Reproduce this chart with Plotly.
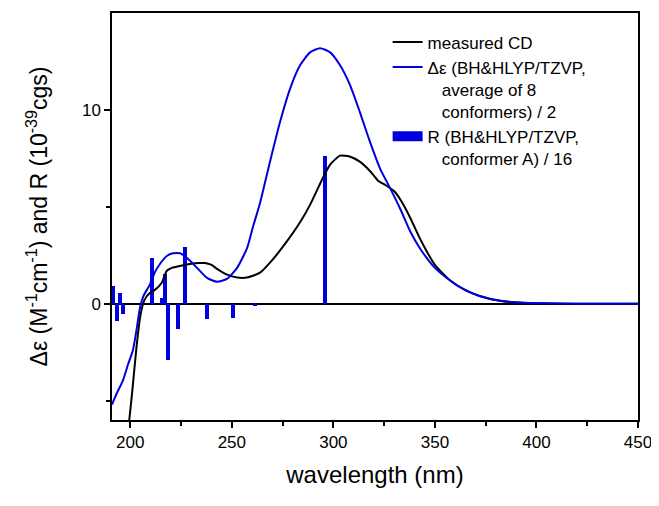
import plotly.graph_objects as go

# measured CD spectrum
cd_wl = [199, 201, 203, 205, 207, 209.7, 212, 215.5, 218, 220.5, 224.5, 229.4, 234, 236.8, 240,
         242.7, 247.6, 252.6, 257.5, 263.9, 270.3, 277, 283.6, 288.5, 294.4, 298.4, 303.3, 308,
         313, 318, 322, 326, 330, 334, 338, 342, 346, 350, 357.5, 365, 372, 382, 392, 405, 420, 450]
cd_val = [-6.5, -4.5, -2.3, -0.6, 0.2, 0.56, 0.7, 1.08, 1.7, 1.85, 1.95, 2.05, 2.1, 2.1, 2.0,
          1.8, 1.5, 1.35, 1.35, 1.6, 2.3, 3.2, 4.2, 5.1, 6.4, 7.18, 7.64, 7.6,
          7.33, 6.85, 6.35, 6.1, 5.8, 5.2, 4.4, 3.5, 2.7, 2.0, 1.2, 0.7, 0.4, 0.15, 0.05, 0.01, 0.0, 0.0]

# calculated spectrum (average of 8 conformers) / 2
calc_wl = [191, 193, 196.4, 199, 201.3, 203, 204.8, 206.5, 209.7, 212, 214.6, 218, 221, 224.5,
           228, 232.9, 237.8, 242.7, 247.6, 252.6, 257.5, 260.5, 263.9, 268.8, 273.8, 278.7,
           283.6, 288.5, 293.5, 298.4, 303.3, 308.2, 313, 318, 323, 328, 332.9, 338, 343, 350,
           357.5, 365, 372, 382, 392, 405, 420, 450]
calc_val = [-5.2, -4.7, -3.95, -3.1, -2.4, -1.4, -0.2, 0.4, 1.0, 1.6, 2.05, 2.46, 2.6, 2.6,
            2.36, 1.85, 1.33, 1.13, 1.28, 1.85, 2.87, 4.0, 5.2, 7.33, 9.4, 11.1,
            12.3, 12.97, 13.18, 12.97, 12.3, 11.28, 9.9, 8.36, 6.97, 5.95, 4.9, 3.7, 2.8, 1.85,
            1.2, 0.7, 0.4, 0.15, 0.06, 0.02, 0.0, 0.0]

# rotational strengths, conformer A / 16
r_wl = [191.5, 193.5, 195, 196.4, 210.7, 215.6, 217.1, 218.6, 223.5, 227, 237.8, 250.6, 261.4, 295.9]
r_val = [0.92, -0.87, 0.55, -0.53, 2.36, 0.3, 1.54, -2.92, -1.28, 2.92, -0.77, -0.72, -0.1, 7.6]

x_ticks = [200, 250, 300, 350, 400, 450]
y_ticks = [0, 10]

FONT = "Liberation Sans, Arial, sans-serif"
BLUE = "#0000DD"
NB = "\u00a0\u00a0\u00a0"

fig = go.Figure()
fig.add_trace(go.Bar(x=r_wl, y=r_val, width=2.2, marker=dict(color=BLUE, line=dict(width=0)),
                     showlegend=False))
fig.add_trace(go.Scatter(x=cd_wl, y=cd_val, mode="lines", name="measured CD",
                         line=dict(color="black", width=2, shape="spline", smoothing=0.5)))
fig.add_trace(go.Scatter(x=calc_wl, y=calc_val, mode="lines",
                         name="Δε (BH&HLYP/TZVP,<br>" + NB + "average of 8<br>" + NB + "conformers) / 2",
                         line=dict(color=BLUE, width=2, shape="spline", smoothing=0.6)))
fig.add_trace(go.Scatter(x=[None], y=[None], mode="lines",
                         name="R (BH&HLYP/TZVP,<br>" + NB + "conformer A) / 16",
                         line=dict(color=BLUE, width=12)))

fig.update_layout(
    width=651, height=498,
    margin=dict(l=104, r=21, t=3, b=86),
    paper_bgcolor="white", plot_bgcolor="white",
    font=dict(family=FONT, color="black"),
    bargap=0,
    legend=dict(x=0.524, y=0.972, xanchor="left", yanchor="top", bgcolor="rgba(0,0,0,0)",
                font=dict(size=17, family=FONT), valign="top", tracegroupgap=0),
    xaxis=dict(range=[191, 450], tickvals=x_ticks, ticks="outside", ticklen=6, tickwidth=1.5,
               tickcolor="black", showline=True, linecolor="black", linewidth=1.5, mirror=True,
               showgrid=False, zeroline=False, tickfont=dict(size=17),
               minor=dict(dtick=25, ticks="outside", ticklen=4, tickcolor="black", tickwidth=1.5),
               title=dict(text="wavelength (nm)", font=dict(size=24), standoff=15)),
    yaxis=dict(range=[-6, 15], tickvals=y_ticks, ticks="outside", ticklen=6, tickwidth=1.5,
               tickcolor="black", showline=True, linecolor="black", linewidth=1.5, mirror=True,
               showgrid=False, zeroline=True, zerolinecolor="black", zerolinewidth=1.5,
               tickfont=dict(size=17),
               minor=dict(tickvals=[-5, 5], ticks="outside", ticklen=4, tickcolor="black", tickwidth=1.5),
               title=dict(text="Δε (M<sup>-1</sup>cm<sup>-1</sup>) and R (10<sup>-39</sup>cgs)",
                          font=dict(size=23), standoff=28)),
)

fig.write_html("out.html")
